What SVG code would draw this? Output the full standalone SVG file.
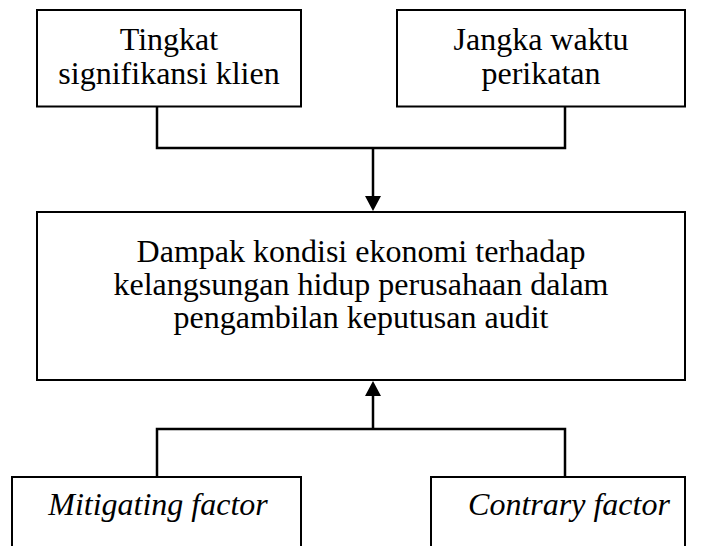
<svg xmlns="http://www.w3.org/2000/svg" width="706" height="546" viewBox="0 0 706 546">
  <style>
    .box { fill: #ffffff; stroke: #000000; stroke-width: 2; }
    .lbl { font-family: "Liberation Serif", "Times New Roman", serif; font-size: 32px; fill: #000000; text-anchor: middle; }
    .it { font-style: italic; }
    .conn { fill: none; stroke: #000000; stroke-width: 2.5; }
  </style>
  <defs>
    <marker id="arrow" markerUnits="userSpaceOnUse" markerWidth="16" markerHeight="16" refX="0" refY="8" orient="auto">
      <path d="M0,0 L15,8 L0,16 Z" fill="#000000"/>
    </marker>
  </defs>
  <rect width="706" height="546" fill="#ffffff"/>

  <g id="connectors">
    <path class="conn" d="M157,107 V148 H565 V107"/>
    <path class="conn" d="M373,148 V196" marker-end="url(#arrow)"/>
    <path class="conn" d="M157,477 V429 H565 V477"/>
    <path class="conn" d="M373,429 V396" marker-end="url(#arrow)"/>
  </g>

  <g id="node-tingkat">
    <rect class="box" x="37" y="10" width="264" height="96.5"/>
    <text class="lbl" x="169" y="50">Tingkat</text>
    <text class="lbl" x="169" y="84">signifikansi klien</text>
  </g>

  <g id="node-jangka">
    <rect class="box" x="397" y="10" width="288" height="96.5"/>
    <text class="lbl" x="541" y="50">Jangka waktu</text>
    <text class="lbl" x="541" y="84">perikatan</text>
  </g>

  <g id="node-dampak">
    <rect class="box" x="37" y="212" width="648" height="168"/>
    <text class="lbl" x="361" y="262">Dampak kondisi ekonomi terhadap</text>
    <text class="lbl" x="361" y="295">kelangsungan hidup perusahaan dalam</text>
    <text class="lbl" x="361" y="328">pengambilan keputusan audit</text>
  </g>

  <g id="node-mitigating">
    <rect class="box" x="12" y="477" width="289" height="90"/>
    <text class="lbl it" x="158" y="515">Mitigating factor</text>
  </g>

  <g id="node-contrary">
    <rect class="box" x="431" y="477" width="254" height="90"/>
    <text class="lbl it" x="569" y="515">Contrary factor</text>
  </g>
</svg>
